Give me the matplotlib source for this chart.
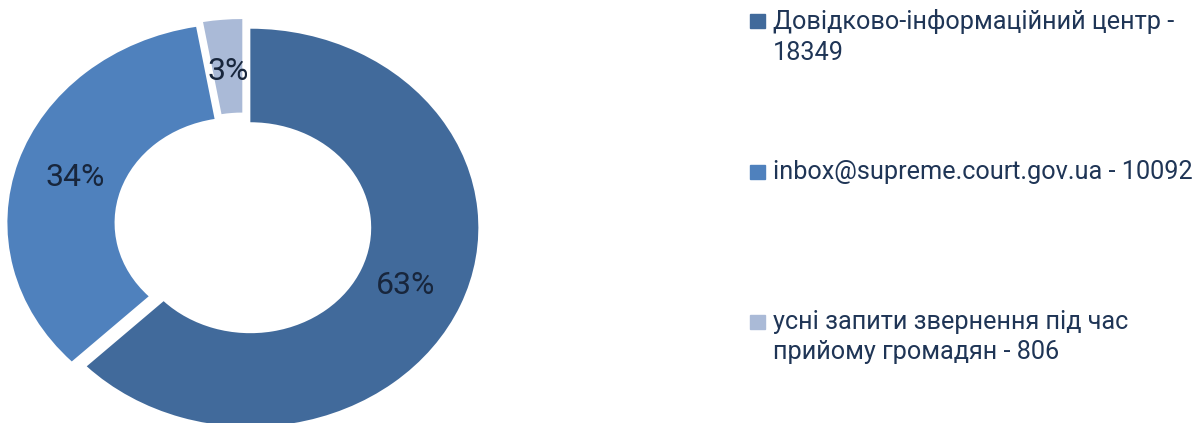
import textwrap
import matplotlib.pyplot as plt

names = ['Довідково-інформаційний центр',
         'inbox@supreme.court.gov.ua',
         'усні запити звернення під час прийому громадян']
values = [18349, 10092, 806]
pct_labels = ['63%', '34%', '3%']
colors = ['#416A9B', '#4F81BD', '#AABAD7']

plt.rcParams['font.family'] = ['Roboto', 'DejaVu Sans']

W, H = 1204, 423
fig = plt.figure(figsize=(W / 100, H / 100), dpi=100)

# elliptical donut: center and radii in pixels
cx, cy, rx, ry, lim = 243, 423 - 225, 228, 199, 1.1
ax = fig.add_axes([(cx - rx * lim) / W, (cy - ry * lim) / H,
                   2 * rx * lim / W, 2 * ry * lim / H])

wedges, texts, autotexts = ax.pie(values, colors=colors, startangle=90, counterclock=False,
                                  explode=[0.035] * 3, autopct='%.0f%%', pctdistance=0.74,
                                  wedgeprops=dict(width=0.47, linewidth=0),
                                  textprops=dict(fontsize=23, color='#18263C'))
for t, lab in zip(autotexts, pct_labels):
    t.set_text(lab)
ax.set_aspect('auto')
ax.set_xlim(-lim, lim)
ax.set_ylim(-lim, lim)

# legend on the right
rows_y = [21.5, 172, 322]
for name, val, col, y in zip(names, values, colors, rows_y):
    fig.patches.append(plt.Rectangle((750 / W, 1 - (y + 7) / H), 15 / W, 14 / H,
                                     transform=fig.transFigure, color=col))
    label = textwrap.fill(f'{name} - {val}', 35, break_on_hyphens=False)
    fig.text(773 / W, 1 - (y - 12) / H, label, fontsize=18.2, color='#1F3556',
             va='top', ha='left', linespacing=1.32)

fig.savefig('out.png', dpi=100)
